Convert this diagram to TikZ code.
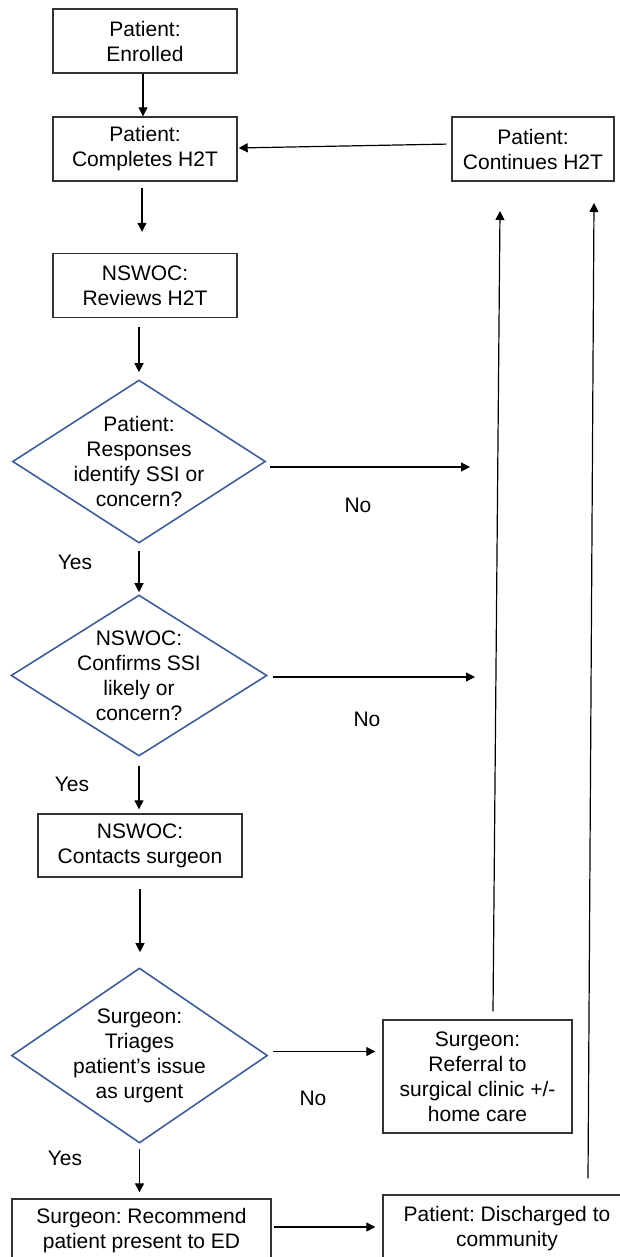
\documentclass[tikz,border=0pt]{standalone}
\usepackage{fontspec}
\setmainfont{Liberation Sans}
\frenchspacing
\usepackage{tikz}
\usetikzlibrary{shapes.geometric,arrows.meta,calc}
\definecolor{diablue}{RGB}{62,93,153}
\tikzstyle{flow}=[
  >={Triangle[length=4.5pt,width=4.5pt]},x=0.5pt,y=-0.5pt,
  font=\fontsize{10.5}{12.5}\selectfont
]
\tikzstyle{box}=[
  draw=black!80,line width=0.7pt,align=center,inner sep=1pt,
  minimum width=92pt,minimum height=32pt
]
\tikzstyle{decision}=[
  draw=diablue,line width=0.8pt,diamond,align=center,inner sep=-14pt
]
\tikzstyle{arr}=[->,line width=0.6pt]
\tikzstyle{lbl}=[inner sep=0pt]

\begin{document}
\begin{tikzpicture}[flow]
    \useasboundingbox (0,0) rectangle (620,1257);
    % left column
    \node[box] (enr) at (145,41) {Patient:\\Enrolled};
    \node[box] (cmp) at (145,149) {Patient:\\Completes H2T};
    \node[box] (rev) at (145,285.5) {NSWOC:\\Reviews H2T};
    \node[decision,minimum width=126.5pt,minimum height=81.5pt] (d1) at (139,461.5)
          {Patient:\\Responses\\identify SSI or\\concern?};
    \node[decision,minimum width=128pt,minimum height=80.5pt] (d2) at (139,675.5)
          {NSWOC:\\Confirms SSI\\likely or\\concern?};
    \node[box,minimum width=102pt,minimum height=31.5pt] (con) at (140,845.5)
          {NSWOC:\\Contacts surgeon};
    \node[decision,minimum width=128pt,minimum height=87.5pt] (d3) at (139.5,1055.5)
          {Surgeon:\\Triages\\patient’s issue\\as urgent};
    \node[box,minimum width=129.5pt] (rec) at (141.5,1231)
          {Surgeon: Recommend\\patient present to ED};
    % right column
    \node[box,minimum width=81pt] (cnt) at (533,149) {Patient:\\Continues H2T};
    \node[box,minimum width=94.5pt,minimum height=56.5pt] (ref) at (477.5,1076.5)
          {Surgeon:\\Referral to\\surgical clinic +/-\\home care};
    \node[box,minimum width=124pt,minimum height=34pt] (dis) at (507,1229)
          {Patient: Discharged to\\community};
    \coordinate (n1) at (470,467);
    \coordinate (n2) at (475,677);
    \coordinate (u1) at (500,211);
    \coordinate (u2) at (594,203);
    % labels
    \node[lbl] (y1) at (75,562) {Yes};
    \node[lbl] (y2) at (72,784) {Yes};
    \node[lbl] (y3) at (65,1158) {Yes};
    \node[lbl] (no1) at (358,505) {No};
    \node[lbl] (no2) at (367,719) {No};
    \node[lbl] (no3) at (313,1098) {No};
    % arrows
    \draw[arr] ([xshift=-1pt]enr.south) -- ([xshift=-1pt]cmp.north);
    \draw[arr,shorten <=3pt,shorten >=10.5pt] ([xshift=-1.5pt]cmp.south) -- ([xshift=-1.5pt]rev.north);
    \draw[arr,shorten <=4.5pt,shorten >=3.5pt] (rev.south -| d1.north) -- (d1.north);
    \draw[arr,shorten <=3.5pt,shorten >=1pt] (d1) -- (d2);
    \draw[arr,shorten <=4.5pt,shorten >=2pt] (d2.south) -- (d2.south |- con.north);
    \draw[arr,shorten <=5.5pt,shorten >=7.5pt] (con.south) -- (con.south |- d3.north);
    \draw[arr,shorten <=2.5pt,shorten >=3pt] (d3.south) -- (d3.south |- rec.north);
    \draw[arr,shorten <=2pt] (d1.east |- n1) -- (n1);
    \draw[arr,shorten <=2.5pt] (d2.east |- n2) -- (n2);
    \draw[arr,shorten <=2.5pt,shorten >=3.5pt] ([yshift=2pt]d3.east) -- ([yshift=2pt]d3.east -| ref.west);
    \draw[arr,shorten <=1pt,shorten >=3.5pt] ([yshift=2pt]rec.east) -- ([yshift=2pt]rec.east -| dis.west);
    \draw[arr,shorten <=2.5pt,shorten >=0.5pt] ([yshift=2.5pt]cnt.west) -- ([yshift=0.5pt]cmp.east);
    \draw[arr] ($(ref.north)+(15.5,-8)$) -- (u1);
    \draw[arr] ($(dis.north)+(81,-16)$) -- (u2);
\end{tikzpicture}
\end{document}
